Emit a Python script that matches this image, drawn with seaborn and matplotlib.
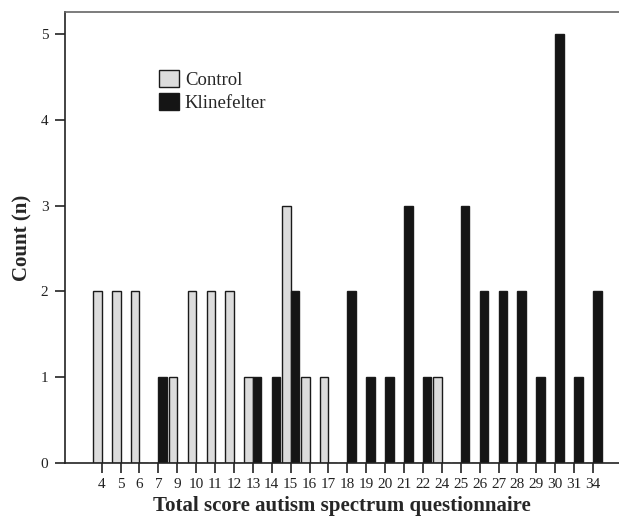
import pandas as pd
import numpy as np
import seaborn as sns
import matplotlib.pyplot as plt

scores = ['4', '5', '6', '7', '9', '10', '11', '12', '13', '14', '15', '16', '17', '18',
          '19', '20', '21', '22', '24', '25', '26', '27', '28', '29', '30', '31', '34']
control = [2, 2, 2, 0, 1, 2, 2, 2, 1, 0, 3, 1, 1, 0,
           0, 0, 0, 0, 1, 0, 0, 0, 0, 0, 0, 0, 0]
klinefelter = [0, 0, 0, 1, 0, 0, 0, 0, 1, 1, 2, 0, 0, 2,
               1, 1, 3, 1, 0, 3, 2, 2, 2, 1, 5, 1, 2]

data = pd.DataFrame({
    'score': scores * 2,
    'count': control + klinefelter,
    'group': ['Control'] * len(scores) + ['Klinefelter'] * len(scores),
})

sns.set_style('ticks')
plt.rcParams['font.family'] = ['Liberation Serif', 'DejaVu Serif']

fig = plt.figure(figsize=(6.19, 5.19), dpi=100)
ax = fig.add_axes([0.105, 0.108, 0.895, 0.869])

sns.barplot(data=data, x='score', y='count', hue='group', order=scores,
            hue_order=['Control', 'Klinefelter'],
            palette={'Control': '#dcdcdc', 'Klinefelter': '#151515'},
            width=0.9, edgecolor='#1a1a1a', linewidth=1.0, ax=ax, errorbar=None)

ax.set_xlim(-1.94, 27.37)
ax.set_ylim(0, 5.256)
ax.set_yticks([0, 1, 2, 3, 4, 5])

ax.spines['right'].set_visible(False)
ax.spines['top'].set_color('#666666')
ax.spines['top'].set_linewidth(1.2)
for side in ['left', 'bottom']:
    ax.spines[side].set_color('#222222')
    ax.spines[side].set_linewidth(1.2)

ax.tick_params(axis='both', direction='out', length=7, width=1.2, color='#222222',
               labelsize=11, labelcolor='#222222')
ax.tick_params(axis='y', pad=5)

ax.set_xlabel('Total score autism spectrum questionnaire', fontsize=15, fontweight='bold',
              labelpad=4)
ax.set_ylabel('Count (n)', fontsize=15, fontweight='bold', labelpad=6)

ax.legend(loc='upper left', bbox_to_anchor=(0.157, 0.888), frameon=False, fontsize=13.5,
          handlelength=1.05, handleheight=1.0, handletextpad=0.3, labelspacing=0.25,
          borderaxespad=0)

fig.savefig('out.png', dpi=100)
